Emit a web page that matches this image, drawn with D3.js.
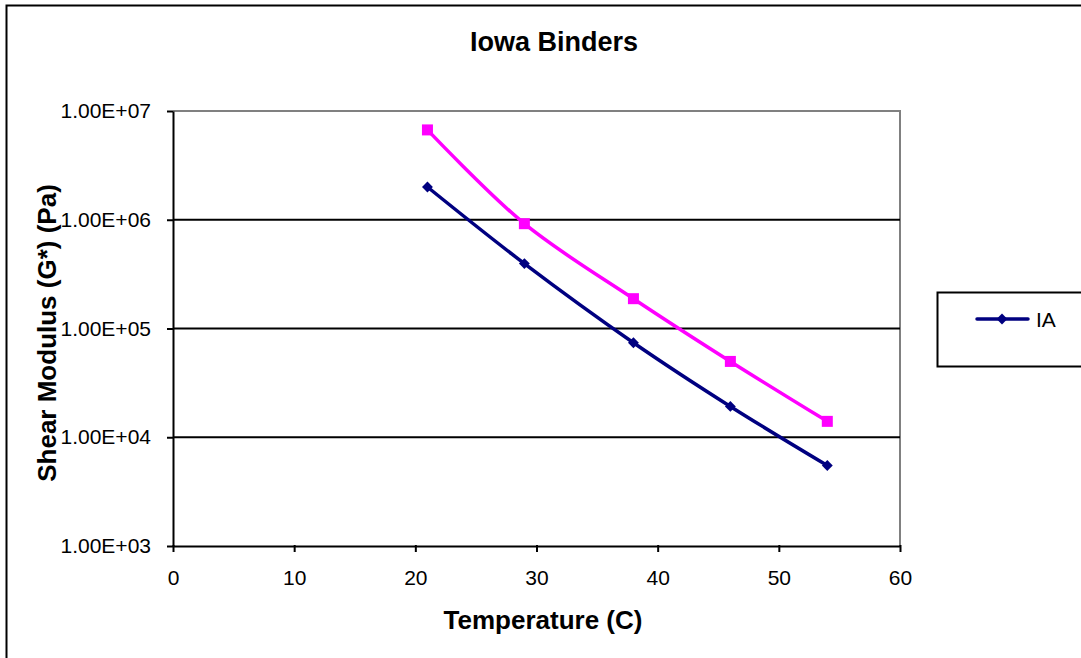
<!DOCTYPE html>
<html>
<head>
<meta charset="utf-8">
<script src="https://cdn.jsdelivr.net/npm/d3@7"></script>
<style>
  body { margin: 0; background: #fff; }
  text { font-family: "Liberation Sans", Arial, sans-serif; fill: #000; }
</style>
</head>
<body>
<div class="chart"></div>
<script>
const w = 1081;
const h = 658;

const temps = [21, 29, 38, 46, 54];
const iaValues = [2.0e6, 3.95e5, 7.4e4, 1.92e4, 5.5e3];
const secondValues = [6.7e6, 9.2e5, 1.88e5, 4.98e4, 1.4e4];
const xTicks = [0, 10, 20, 30, 40, 50, 60];
const yTicks = [1e3, 1e4, 1e5, 1e6, 1e7];

const plot = { left: 173, top: 111, right: 900, bottom: 546 };

const svg = d3.select(".chart").append("svg").attr("width", w).attr("height", h);

// outer chart border (right/bottom run off the page)
svg.append("rect")
  .attr("x", 6.5).attr("y", 5.5)
  .attr("width", w + 10).attr("height", h + 10)
  .attr("fill", "none").attr("stroke", "#000").attr("stroke-width", 2);

const xScale = d3.scaleLinear().domain([0, 60]).range([plot.left, plot.right]);
const yScale = d3.scaleLog().domain([1e3, 1e7]).range([plot.bottom, plot.top]);

// plot area top and right border (gray)
svg.append("path")
  .attr("d", `M${plot.left},${plot.top}H${plot.right}V${plot.bottom}`)
  .attr("fill", "none").attr("stroke", "#808080").attr("stroke-width", 2);

// gridlines
svg.append("g").selectAll("line")
  .data(yTicks.filter(d => d > 1e3 && d < 1e7))
  .enter().append("line")
  .attr("x1", plot.left).attr("x2", plot.right)
  .attr("y1", d => yScale(d)).attr("y2", d => yScale(d))
  .attr("stroke", "#000").attr("stroke-width", 2);

const xAxis = d3.axisBottom(xScale).tickValues(xTicks).tickSize(6).tickSizeOuter(0);
const gx = svg.append("g")
  .attr("transform", "translate(0," + plot.bottom + ")")
  .call(xAxis);
gx.select(".domain").attr("stroke-width", 2);
gx.selectAll(".tick line").attr("stroke-width", 2).attr("y1", -1);
gx.selectAll(".tick text")
  .attr("y", 39).attr("dy", 0)
  .style("font-size", "21px").style("font-family", "Liberation Sans, Arial, sans-serif");

const yAxis = d3.axisLeft(yScale).tickValues(yTicks).tickSize(6).tickSizeOuter(0)
  .tickFormat(d => d.toExponential(2).toUpperCase().replace(/E\+(\d)$/, "E+0$1"));
const gy = svg.append("g")
  .attr("transform", "translate(" + plot.left + ",0)")
  .call(yAxis);
gy.select(".domain").attr("stroke-width", 2);
gy.selectAll(".tick line").attr("stroke-width", 2);
gy.selectAll(".tick text")
  .attr("x", -22)
  .style("font-size", "21px").style("font-family", "Liberation Sans, Arial, sans-serif");

const line = d3.line()
  .x((d, i) => xScale(temps[i]))
  .y(d => yScale(d))
  .curve(d3.curveCatmullRom.alpha(0.5));

// pink series
svg.append("path")
  .datum(secondValues)
  .attr("d", line)
  .attr("fill", "none").attr("stroke", "#ff00ff").attr("stroke-width", 3.5);
svg.append("g").selectAll("rect")
  .data(secondValues)
  .enter().append("rect")
  .attr("x", (d, i) => xScale(temps[i]) - 5.5)
  .attr("y", d => yScale(d) - 5.5)
  .attr("width", 11).attr("height", 11)
  .attr("fill", "#ff00ff");

// IA series
svg.append("path")
  .datum(iaValues)
  .attr("d", line)
  .attr("fill", "none").attr("stroke", "#000080").attr("stroke-width", 3.5);
const diamond = d3.symbol().type(d3.symbolDiamond2).size(75);
svg.append("g").selectAll("path")
  .data(iaValues)
  .enter().append("path")
  .attr("d", diamond)
  .attr("transform", (d, i) => "translate(" + xScale(temps[i]) + "," + yScale(d) + ")")
  .attr("fill", "#000080");

// titles
svg.append("text")
  .attr("x", 554).attr("y", 51)
  .attr("text-anchor", "middle")
  .style("font-size", "27px").style("font-weight", "bold")
  .text("Iowa Binders");

svg.append("text")
  .attr("x", 543).attr("y", 629)
  .attr("text-anchor", "middle")
  .style("font-size", "26px").style("font-weight", "bold")
  .text("Temperature (C)");

svg.append("text")
  .attr("transform", "translate(56,333) rotate(-90)")
  .attr("text-anchor", "middle")
  .style("font-size", "26px").style("font-weight", "bold")
  .text("Shear Modulus (G*) (Pa)");

// legend
const legend = svg.append("g");
legend.append("rect")
  .attr("x", 937.5).attr("y", 292.5)
  .attr("width", 160).attr("height", 74)
  .attr("fill", "#fff").attr("stroke", "#000").attr("stroke-width", 2);
legend.append("line")
  .attr("x1", 977).attr("x2", 1028).attr("y1", 319).attr("y2", 319)
  .attr("stroke", "#000080").attr("stroke-width", 3.5).attr("stroke-linecap", "round");
legend.append("path")
  .attr("d", diamond)
  .attr("transform", "translate(1002,319)")
  .attr("fill", "#000080");
legend.append("text")
  .attr("x", 1036).attr("y", 327)
  .style("font-size", "21px")
  .text("IA");
</script>
</body>
</html>
